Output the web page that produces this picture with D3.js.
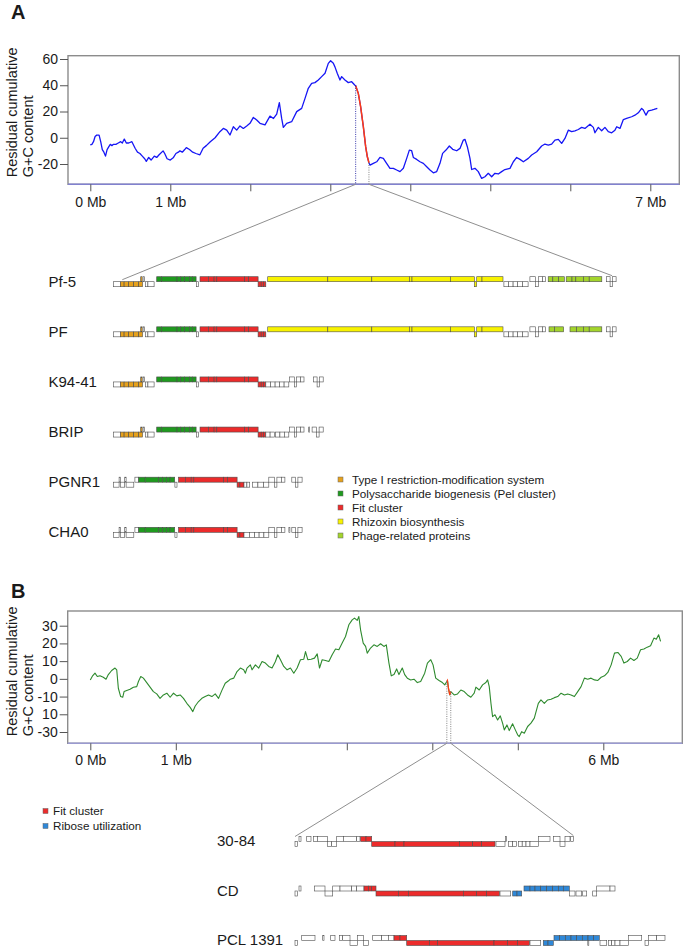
<!DOCTYPE html>
<html><head><meta charset="utf-8">
<script src="https://cdn.jsdelivr.net/npm/d3@7"></script>
<style>body{margin:0;background:#fff}svg{display:block}text{font-family:"Liberation Sans",Arial,sans-serif;fill:#1a1a1a}</style>
</head><body>
<svg id="c" width="685" height="949"></svg>
<script>
// ---------------- DATA ----------------
// Panel A: residual cumulative G+C curve (Mb, value)
const curveA = [[0,-5.5],[0.02,-5],[0.04,-3],[0.06,1],[0.08,2],[0.11,2],[0.13,-3],[0.15,-9],[0.17,-11],[0.19,-14],[0.21,-9],[0.23,-7],[0.25,-5],[0.27,-6],[0.29,-5],[0.32,-5],[0.35,-4],[0.38,-3],[0.40,-4],[0.425,-1],[0.45,-4],[0.48,-4],[0.52,-3],[0.56,-8],[0.59,-11],[0.62,-12],[0.65,-14],[0.68,-16],[0.70,-18],[0.73,-15],[0.76,-17],[0.80,-14],[0.83,-15],[0.86,-13],[0.91,-10],[0.93,-12],[0.96,-16],[1.00,-17],[1.04,-15],[1.07,-12],[1.10,-11],[1.12,-10],[1.15,-11],[1.18,-9],[1.20,-7.5],[1.24,-9],[1.28,-11],[1.32,-12],[1.37,-13],[1.41,-8],[1.45,-6],[1.50,-3],[1.56,0],[1.62,4.6],[1.663,7.1],[1.705,5.8],[1.746,2.1],[1.788,8.4],[1.83,5.8],[1.871,9],[1.913,7.1],[1.955,9],[1.996,11],[2.038,15.5],[2.08,13.5],[2.121,11],[2.184,9.8],[2.246,16.5],[2.29,14.7],[2.33,18],[2.363,26.7],[2.392,14.7],[2.413,7.9],[2.455,11],[2.517,12.2],[2.58,19.9],[2.642,22.4],[2.684,30],[2.725,37.7],[2.767,41.5],[2.808,42],[2.85,44],[2.892,46.6],[2.934,49.1],[2.975,56.7],[3.004,58.7],[3.038,56.7],[3.058,54],[3.088,49],[3.121,44],[3.142,46.6],[3.183,44],[3.225,42],[3.267,42.7],[3.308,40],[3.317,39.7],[3.35,33.8],[3.379,23.7],[3.413,8.4],[3.442,-6.8],[3.463,-14.5],[3.483,-19],[3.496,-20.8],[3.538,-19.5],[3.58,-18.3],[3.621,-15],[3.663,-15.7],[3.704,-19.5],[3.746,-23.3],[3.788,-23.3],[3.83,-24.6],[3.871,-25.8],[3.913,-23.3],[3.955,-15.7],[3.988,-9.4],[4.017,-9.9],[4.038,-15],[4.08,-16.5],[4.121,-18.3],[4.163,-19.5],[4.205,-22.1],[4.246,-24.6],[4.288,-26.7],[4.33,-25.8],[4.371,-19.5],[4.404,-11.9],[4.446,-9.4],[4.488,-6.3],[4.53,-8.8],[4.58,-9.9],[4.621,-8.1],[4.663,-1.8],[4.683,-1.2],[4.713,-6.8],[4.746,-15.7],[4.767,-24.2],[4.808,-23.3],[4.85,-25.8],[4.892,-31],[4.933,-29.7],[4.975,-27.1],[5.017,-29.7],[5.058,-27.1],[5.1,-27.6],[5.142,-25.8],[5.183,-24.2],[5.246,-23.3],[5.288,-18.3],[5.33,-15],[5.371,-16.5],[5.413,-18.3],[5.475,-15.7],[5.517,-13.2],[5.58,-10.7],[5.642,-6.3],[5.683,-4.8],[5.725,-5.6],[5.767,-4.8],[5.808,-1.8],[5.85,-1.2],[5.892,-4.3],[5.933,-0.5],[5.975,5.8],[6.017,4.6],[6.058,5.3],[6.1,6.3],[6.142,7.9],[6.183,7.1],[6.246,10.3],[6.288,7.9],[6.308,3.8],[6.35,7.9],[6.392,5.3],[6.433,7.9],[6.475,4.6],[6.517,3.8],[6.558,5.8],[6.58,8.4],[6.621,7.1],[6.663,13.9],[6.704,14.7],[6.767,16],[6.808,17.2],[6.85,19],[6.892,22.4],[6.913,21.1],[6.946,17.2],[6.975,20.5],[7.017,21.1],[7.046,21.6],[7.088,22.4]];
const fitRangeA = [3.317, 3.483];          // Mb, highlighted (Fit cluster) region
const xTicksA = [0,1,2,3,4,5,6,7];
const xTickLabelsA = ["0 Mb","1 Mb","","","","","","7 Mb"];
const yTicksA = [60,40,20,0,-20];
const yTickLabelsA = ["60","40","20","0","-20"];

// Panel B curve
const curveB = [[0,-0.6],[0.027,1.7],[0.055,3.2],[0.082,1.3],[0.113,1.7],[0.152,0.9],[0.184,-0.2],[0.211,2.4],[0.25,4.7],[0.289,6.1],[0.309,5.1],[0.328,-5.3],[0.355,-10],[0.379,-10.4],[0.395,-7.2],[0.426,-6.6],[0.465,-5.9],[0.504,-4.7],[0.543,-4.4],[0.563,-1.5],[0.59,1.3],[0.621,0.4],[0.66,-2.1],[0.699,-4.7],[0.738,-7.2],[0.777,-8.5],[0.816,-11],[0.855,-9.1],[0.895,-8.1],[0.934,-10.4],[0.973,-8.1],[1.012,-9.6],[1.051,-9.1],[1.09,-11],[1.129,-13.8],[1.168,-16.1],[1.199,-18.5],[1.227,-15.3],[1.266,-12.8],[1.305,-11],[1.344,-10],[1.383,-9.1],[1.422,-10],[1.461,-8.5],[1.5,-11],[1.539,-6.5],[1.578,-2.5],[1.617,-1.1],[1.638,-0.2],[1.677,0.4],[1.716,4.1],[1.755,6.1],[1.794,5.1],[1.814,3.2],[1.833,6.1],[1.872,7.9],[1.892,5.1],[1.931,7.9],[1.97,6.1],[2.009,9.8],[2.048,8.9],[2.087,7],[2.126,6.1],[2.165,9.8],[2.193,13.6],[2.224,10.8],[2.263,7],[2.302,5.1],[2.341,6.1],[2.38,3.2],[2.419,6.1],[2.458,10.8],[2.497,11.1],[2.517,15.4],[2.544,10.8],[2.583,11.1],[2.622,11.7],[2.654,14.1],[2.681,6.1],[2.712,10.8],[2.751,10.4],[2.79,9.8],[2.829,13.6],[2.868,16.8],[2.907,16.4],[2.946,20.2],[2.985,23.9],[3.024,30.5],[3.063,33.3],[3.09,34.3],[3.122,33],[3.141,35.2],[3.161,27.7],[3.192,20.2],[3.22,18.3],[3.239,14.5],[3.278,17.4],[3.317,19.2],[3.356,18.3],[3.395,19.8],[3.434,18.3],[3.462,19.2],[3.493,8.9],[3.52,1.7],[3.552,2.4],[3.583,5.6],[3.61,2.4],[3.649,6.1],[3.677,2.4],[3.708,0.4],[3.747,-0.6],[3.786,-0.2],[3.825,-2.1],[3.864,-1.5],[3.911,3.2],[3.943,8.9],[3.982,10.8],[4.009,7.9],[4.04,0.4],[4.079,-0.9],[4.118,-2.1],[4.146,-3.4],[4.17,-1.5],[4.177,-0.9],[4.189,-5.3],[4.204,-9.1],[4.216,-7.2],[4.256,-9.1],[4.295,-8.5],[4.334,-6.3],[4.373,-7.2],[4.412,-9.1],[4.451,-10.4],[4.49,-8.1],[4.51,-4.7],[4.549,-6.3],[4.588,-3.4],[4.627,-2.1],[4.647,-0.6],[4.666,-4.4],[4.686,-13.8],[4.705,-21.3],[4.733,-20.3],[4.764,-23.2],[4.795,-20.9],[4.822,-25],[4.842,-28.8],[4.873,-26],[4.9,-29.2],[4.939,-25.4],[4.971,-28.8],[4.998,-31.6],[5.017,-32.6],[5.045,-29.8],[5.076,-30.7],[5.115,-26.9],[5.154,-25],[5.193,-22.2],[5.24,-13.8],[5.271,-11.9],[5.31,-13.8],[5.349,-11.9],[5.389,-11.5],[5.428,-10.6],[5.467,-10],[5.506,-8.1],[5.545,-9.1],[5.584,-8.5],[5.623,-9.1],[5.662,-10],[5.701,-7.2],[5.74,-4.4],[5.779,0.4],[5.818,-0.2],[5.857,0.4],[5.897,-0.6],[5.936,-0.9],[5.975,0.9],[6.014,1.7],[6.053,3.6],[6.092,7.9],[6.131,14.5],[6.17,14.9],[6.209,12.7],[6.241,8.9],[6.28,9.8],[6.319,11.7],[6.358,10.4],[6.397,11.7],[6.436,16.4],[6.475,16.8],[6.514,17.9],[6.553,18.7],[6.592,23],[6.62,22.4],[6.647,24.9],[6.67,21.1]];
const fitRangeB = [4.17, 4.216];
const xTicksB = [0,1,2,3,4,5,6];
const xTickLabelsB = ["0 Mb","1 Mb","","","","","6 Mb"];
const yTicksB = [30,20,10,0,-10,-20,-30];
const yTickLabelsB = ["30","20","10","0","-10","10","-30"];

// Gene loci: [start kb, end kb, strand (+1 upper / -1 lower), category]
const lociLeftA = [[0,3.4,-1,"o"],[3.5,5.3,-1,"rm"],[5.3,7.6,-1,"rm"],[7.6,10.1,-1,"rm"],[10.1,12.6,-1,"rm"],[12.6,14.5,-1,"rm"],[13.6,14.3,1,"rm"],[14.8,15.5,1,"o"],[15.9,17.2,-1,"o"],[17.2,20.3,-1,"o"],[21.6,24.1,1,"pel"],[24.1,31.75,1,"pel"],[31.75,33.65,1,"pel"],[33.65,35.6,1,"pel"],[35.6,37.9,1,"pel"],[37.9,39.4,1,"pel"],[39.4,41.3,1,"pel"],[41.4,42.4,-1,"o"],[43.25,47.45,1,"fit"],[47.45,50.3,1,"fit"],[50.3,51.65,1,"fit"],[51.65,65.6,1,"fit"],[65.6,67.55,1,"fit"],[67.55,72.3,1,"fit"],[72.3,73.85,-1,"fit"],[73.85,75,-1,"fit"],[75,76.15,-1,"fit"]];
const rhizoxinA = [[77.1,107.15,1,"rzx"],[107.15,129.15,1,"rzx"],[129.15,147.9,1,"rzx"],[147.9,149.25,1,"rzx"],[149.25,168.4,1,"rzx"],[168.4,180.45,1,"rzx"],[180.45,181.6,-1,"rzx"],[181.6,184.25,1,"rzx"],[184.25,194.75,1,"rzx"],[195.2,197.5,-1,"o"],[197.5,199.8,-1,"o"],[199.8,202,-1,"o"],[202,204.5,-1,"o"],[204.5,207.3,-1,"o"],[208.2,211,1,"o"],[211,212.5,-1,"o"],[212.5,214.5,1,"o"],[214.5,215.9,1,"o"]];
const pf5Right = [[217.35,219.65,1,"phage"],[219.65,222.55,1,"phage"],[222.55,225.4,1,"phage"],[226.35,229.25,1,"phage"],[229.25,231.15,1,"phage"],[231.15,234.95,1,"phage"],[234.95,237.85,1,"phage"],[237.85,244.15,1,"phage"],[246.5,248.3,1,"o"],[248.3,249.5,-1,"o"],[249.5,251.3,1,"o"]];
const pfRight = [[217.75,220.5,1,"phage"],[220.5,225.05,1,"phage"],[228.25,231.5,1,"phage"],[231.5,234.95,1,"phage"],[234.95,237.85,1,"phage"],[237.85,244.15,1,"phage"],[246.5,248.3,1,"o"],[248.3,249.5,-1,"o"],[249.5,251.3,1,"o"]];
const k9441Right = [[76.15,78.5,-1,"o"],[78.5,80.8,-1,"o"],[80.8,83,-1,"o"],[83,85.3,-1,"o"],[85.3,87.65,-1,"o"],[88,90.5,1,"o"],[90.5,91.5,-1,"o"],[91.5,93.5,1,"o"],[93.5,95.25,1,"o"],[100.05,101.8,1,"o"],[101.8,103,-1,"o"],[103,104.85,1,"o"]];
const bripRight = [[76.15,78.3,-1,"o"],[78.3,80.4,-1,"o"],[81,83.2,-1,"o"],[83.2,85.4,-1,"o"],[85.4,87.65,-1,"o"],[88,90.5,1,"o"],[90.5,91.5,-1,"o"],[91.5,93.5,1,"o"],[93.5,95.25,1,"o"],[97.6,98.1,1,"o"],[99.3,101.5,1,"o"],[101.5,102.8,-1,"o"],[102.8,104.85,1,"o"]];
const pgnrLeft = [[0,2.8,-1,"o"],[2.8,3.5,1,"o"],[3.5,5.6,-1,"o"],[5.6,6.3,1,"o"],[6.3,10.15,-1,"o"],[10.7,12.6,1,"o"],[12.6,15.85,1,"pel"],[15.85,22.55,1,"pel"],[22.55,24.5,1,"pel"],[24.5,26.4,1,"pel"],[26.4,28.3,1,"pel"],[28.3,30.6,1,"pel"],[30.7,31.75,-1,"o"],[32.5,35.95,1,"fit"],[35.95,38.85,1,"fit"],[38.85,40.15,1,"fit"],[40.15,55.1,1,"fit"],[55.1,57,1,"fit"],[57,61.8,1,"fit"],[61.8,63.2,-1,"fit"],[63.2,65.25,-1,"fit"]];
const pgnrRight = [[65.25,66.7,-1,"o"],[66.7,68.1,-1,"o"],[69.45,72.2,-1,"o"],[72.2,75,-1,"o"],[75,77.65,-1,"o"],[77.65,80.5,1,"o"],[80.5,81.7,-1,"o"],[81.7,83.9,1,"o"],[83.9,85.7,1,"o"],[89.15,91,1,"o"],[91,92.2,-1,"o"],[92.2,94.3,1,"o"]];
const cha0Right = [[65.25,67.9,-1,"o"],[67.9,70.5,-1,"o"],[70.5,72.8,-1,"o"],[72.8,75.2,-1,"o"],[75.2,77.65,-1,"o"],[77.65,80.5,1,"o"],[80.5,81.7,-1,"o"],[81.7,83.9,1,"o"],[83.9,85.7,1,"o"],[87.7,88.2,1,"o"],[89.15,91,1,"o"],[91,92.2,-1,"o"],[92.2,94.3,1,"o"]];
const strainsA = ["Pf-5","PF","K94-41","BRIP","PGNR1","CHA0"];
const lociA = [lociLeftA.concat(rhizoxinA, pf5Right), lociLeftA.concat(rhizoxinA, pfRight), lociLeftA.concat(k9441Right), lociLeftA.concat(bripRight), pgnrLeft.concat(pgnrRight), pgnrLeft.concat(cha0Right)];
const legendA = [["rm","Type I restriction-modification system"],["pel","Polysaccharide biogenesis (Pel cluster)"],["fit","Fit cluster"],["rzx","Rhizoxin biosynthesis"],["phage","Phage-related proteins"]];
const zoomLocusA = [4.4, 249.3];   // kb where the projection lines meet the Pf-5 locus

const locus3084 = [[0,1.15,-1,"o"],[2,3,1,"o"],[5.85,8,1,"o"],[9.15,11.15,1,"o"],[11.15,16.15,1,"o"],[16.15,18.35,-1,"o"],[18.35,20.85,-1,"o"],[20.85,24.15,1,"o"],[24.15,30.85,1,"o"],[30.85,32.5,1,"o"],[32.85,35.5,1,"fit"],[35.5,38.35,1,"fit"],[38.35,50,-1,"fit"],[50,54.5,-1,"fit"],[54.5,82.15,-1,"fit"],[82.15,88.85,-1,"fit"],[88.85,93.35,-1,"fit"],[93.35,100,-1,"fit"],[100.5,105,-1,"o"],[105.3,105.8,1,"o"],[106.65,108.8,-1,"o"],[108.8,110.85,-1,"o"],[111.65,113.6,-1,"o"],[113.6,115.5,-1,"o"],[115.5,117.5,-1,"o"],[117.5,121.65,-1,"o"],[121.65,127.5,1,"o"],[129.15,132.5,1,"o"],[132.5,135,-1,"o"],[135,137.5,1,"o"],[137.85,139.15,1,"o"]];
const locusCD = [[0,1.15,-1,"o"],[2,3,1,"o"],[9.65,15,1,"o"],[15,18.85,-1,"o"],[18.85,22.5,1,"o"],[22.5,28.35,1,"o"],[28.35,30.85,1,"o"],[30.85,34.5,1,"o"],[34.5,36.65,1,"fit"],[36.65,38.35,1,"fit"],[38.35,40.5,1,"fit"],[40.5,51.65,-1,"fit"],[51.65,56.65,-1,"fit"],[56.65,84.15,-1,"fit"],[84.15,90.85,-1,"fit"],[90.85,95.85,-1,"fit"],[95.85,102.15,-1,"fit"],[102.5,107.85,-1,"o"],[108.85,111,-1,"rib"],[111,113.35,-1,"rib"],[114.5,117.5,1,"rib"],[117.5,120,1,"rib"],[120,122.85,1,"rib"],[122.85,125.85,1,"rib"],[125.85,128.85,1,"rib"],[128.85,131.65,1,"rib"],[131.65,134.15,1,"rib"],[134.15,137.15,1,"rib"],[137.15,140,-1,"o"],[140.5,143.35,-1,"o"],[143.85,145.85,-1,"o"],[148.85,150.85,-1,"o"],[150.85,157.5,1,"o"],[157.5,160,1,"o"]];
const locusPCL = [[0,1.15,-1,"o"],[3.35,10,1,"o"],[13.85,14.5,1,"o"],[17.85,20,1,"o"],[22.15,23.85,1,"o"],[23.85,27.5,1,"o"],[27.5,31.15,-1,"o"],[31.15,34.15,1,"o"],[34.15,36.65,-1,"o"],[38.85,43.35,1,"o"],[43.35,46.65,1,"o"],[46.65,49.5,1,"o"],[49.5,52.5,1,"fit"],[52.5,55.85,1,"fit"],[55.85,67.15,-1,"fit"],[67.15,71.15,-1,"fit"],[71.15,99.5,-1,"fit"],[99.5,106.15,-1,"fit"],[106.15,111.15,-1,"fit"],[111.15,117.15,-1,"fit"],[117.5,122.85,-1,"o"],[124.15,126.5,-1,"rib"],[126.5,129.15,-1,"rib"],[129.5,132.35,1,"rib"],[132.35,135.15,1,"rib"],[135.15,138,1,"rib"],[138,140.85,1,"rib"],[140.85,143.65,1,"rib"],[143.65,146.5,1,"rib"],[146.5,149.35,1,"rib"],[149.35,152.15,1,"rib"],[146.4,146.9,-1,"o"],[152.5,155.85,-1,"o"],[156.65,158.35,-1,"o"],[158.35,160,-1,"o"],[160,162.5,-1,"o"],[162.5,166.65,-1,"o"],[166.65,173.35,1,"o"],[175,176.65,-1,"o"],[176.65,180.85,1,"o"],[180.85,185,1,"o"]];
const strainsB = ["30-84","CD","PCL 1391"];
const lociB = [locus3084, locusCD, locusPCL];
const legendB = [["fit","Fit cluster"],["rib","Ribose utilization"]];
const zoomLocusB = [0, 139.15];

// ---------------- STYLE ----------------
const catColor = {o:"#ffffff", rm:"#e6a11c", pel:"#1f9a1f", fit:"#ec2b2b", rzx:"#f8f200", phage:"#a3d42c", rib:"#2f88d8"};
const FONT = '"Liberation Sans", Arial, sans-serif';
const svg = d3.select("#c");

function panel(cfg){
  const g = svg.append("g");
  const x = d3.scaleLinear().domain(cfg.xDom).range(cfg.xRange);
  const y = d3.scaleLinear().domain(cfg.yDom).range(cfg.yRange);
  g.append("rect").attr("x",cfg.box[0]).attr("y",cfg.box[1]).attr("width",cfg.box[2]-cfg.box[0]).attr("height",cfg.box[3]-cfg.box[1])
    .attr("fill","none").attr("stroke","#8c8c8c").attr("stroke-width",1.4);
  g.append("line").attr("x1",cfg.box[0]).attr("x2",cfg.box[2]).attr("y1",cfg.box[3]).attr("y2",cfg.box[3])
    .attr("stroke",cfg.bottomColor).attr("stroke-width",1.4);
  const ya = g.append("g").attr("transform",`translate(${cfg.box[0]},0)`)
    .call(d3.axisLeft(y).tickValues(cfg.yTicks).tickFormat((d,i)=>cfg.yLabels[i]).tickSize(8).tickPadding(2));
  ya.select(".domain").remove();
  ya.selectAll("line").attr("stroke","#555");
  ya.selectAll("text").attr("font-size",14).attr("font-family",FONT).attr("fill","#1a1a1a");
  const xa = g.append("g").attr("transform",`translate(0,${cfg.box[3]})`)
    .call(d3.axisBottom(x).tickValues(cfg.xTicks).tickFormat((d,i)=>cfg.xLabels[i]).tickSize(7).tickPadding(cfg.xPad));
  xa.select(".domain").remove();
  xa.selectAll("line").attr("stroke","#555");
  xa.selectAll("text").attr("font-size",14).attr("font-family",FONT).attr("fill","#1a1a1a");
  g.append("text").attr("transform",`translate(16.5,${cfg.box[3]-7}) rotate(-90)`).attr("font-size",14.5).text("Residual cumulative");
  g.append("text").attr("transform",`translate(32.5,${cfg.box[3]-7}) rotate(-90)`).attr("font-size",14.5).text("G+C content");
  g.append("text").attr("x",11).attr("y",cfg.letterY).attr("font-size",20).attr("font-weight","bold").text(cfg.letter);
  const line = d3.line().x(d=>x(d[0])).y(d=>y(d[1]));
  g.append("path").datum(cfg.curve).attr("d",line).attr("fill","none").attr("stroke",cfg.color).attr("stroke-width",cfg.lw).attr("stroke-linejoin","round");
  const hl = cfg.curve.filter(d=>d[0]>=cfg.fit[0]-1e-9 && d[0]<=cfg.fit[1]+1e-9);
  g.append("path").datum(hl).attr("d",line).attr("fill","none").attr("stroke","#ff3b14").attr("stroke-width",cfg.lw+0.2);
  const p0 = hl[0], p1 = hl[hl.length-1];
  g.append("line").attr("x1",x(p0[0])).attr("x2",x(p0[0])).attr("y1",y(p0[1])).attr("y2",cfg.box[3])
    .attr("stroke",cfg.dot0).attr("stroke-width",0.9).attr("stroke-dasharray","1,1.3");
  g.append("line").attr("x1",x(p1[0])).attr("x2",x(p1[0])).attr("y1",y(p1[1])).attr("y2",cfg.box[3])
    .attr("stroke","#777").attr("stroke-width",0.9).attr("stroke-dasharray","1,1.3");
  return {x, y, p0, p1};
}

const H = 5;
function tracks(cfg, pr){
  const g = svg.append("g");
  const gx = d3.scaleLinear().domain(cfg.kbDom).range(cfg.kbRange);
  const rowY = d3.scaleLinear().domain([0,cfg.names.length-1]).range(cfg.rowRange);
  const c0 = rowY(0);
  g.append("line").attr("x1",pr.x(pr.p0[0])).attr("y1",cfg.boxBottom).attr("x2",gx(cfg.zoomLocus[0])).attr("y2",c0-cfg.diagDy[0])
    .attr("stroke","#8f8f8f").attr("stroke-width",1);
  g.append("line").attr("x1",pr.x(pr.p1[0])).attr("y1",cfg.boxBottom).attr("x2",gx(cfg.zoomLocus[1])).attr("y2",c0-cfg.diagDy[1])
    .attr("stroke","#8f8f8f").attr("stroke-width",1);
  cfg.names.forEach((nm,i)=>{
    const cy = rowY(i);
    g.append("text").attr("x",cfg.labelX).attr("y",cy).attr("dy","0.33em").attr("font-size",15).text(nm);
    g.append("g").selectAll("rect").data(cfg.loci[i]).join("rect")
      .attr("x",d=>gx(d[0])).attr("width",d=>Math.max(0.6,gx(d[1])-gx(d[0])))
      .attr("y",d=>d[2]>0?cy-H:cy).attr("height",H)
      .attr("fill",d=>catColor[d[3]]).attr("stroke","#4d4d4d").attr("stroke-width",0.6);
  });
  const lg = g.append("g");
  cfg.legend.forEach((d,i)=>{
    const ly = cfg.legendY + i*cfg.legendStep;
    lg.append("rect").attr("x",cfg.legendX).attr("y",ly-2.5).attr("width",5).attr("height",5)
      .attr("fill",catColor[d[0]]).attr("stroke","#666").attr("stroke-width",0.5);
    lg.append("text").attr("x",cfg.legendX+cfg.legendGap).attr("y",ly).attr("dy","0.35em").attr("font-size",cfg.legendFont).text(d[1]);
  });
}

const prA = panel({xDom:[0,7], xRange:[90.3,650.3], yDom:[-20,60], yRange:[164,59], box:[68,55.7,679.3,184.3],
  bottomColor:"#8181cf", yTicks:yTicksA, yLabels:yTickLabelsA, xTicks:xTicksA, xLabels:xTickLabelsA, xPad:6,
  letter:"A", letterY:19, curve:curveA, fit:fitRangeA, color:"#1616f5", lw:1.3, dot0:"#2020a0"});
tracks({kbDom:[0,250], kbRange:[113.5,613.5], names:strainsA, loci:lociA, rowRange:[281.7,532.3], labelX:48.5,
  boxBottom:184.3, zoomLocus:zoomLocusA, diagDy:[2,6], legend:legendA, legendX:338, legendY:479.5, legendStep:14, legendFont:11.7, legendGap:14}, prA);

const prB = panel({xDom:[0,6], xRange:[90.3,603.3], yDom:[-30,30], yRange:[732,625.7], box:[67.7,611,682.3,743.3],
  bottomColor:"#9a9ad0", yTicks:yTicksB, yLabels:yTickLabelsB, xTicks:xTicksB, xLabels:xTickLabelsB, xPad:5,
  letter:"B", letterY:598, curve:curveB, fit:fitRangeB, color:"#2e8a2e", lw:1.1, dot0:"#777"});
tracks({kbDom:[0,200], kbRange:[295,695], names:strainsB, loci:lociB, rowRange:[841.5,940.5], labelX:217,
  boxBottom:743.3, zoomLocus:zoomLocusB, diagDy:[5,6], legend:legendB, legendX:43, legendY:811, legendStep:15, legendFont:11.7, legendGap:10}, prB);
</script>
</body></html>
